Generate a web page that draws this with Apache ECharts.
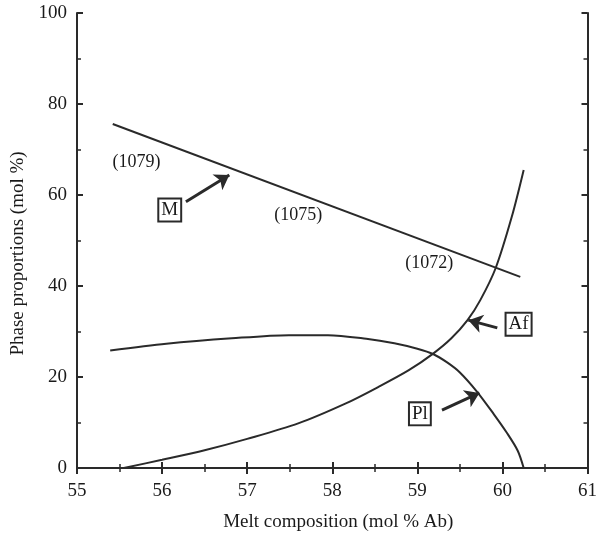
<!DOCTYPE html>
<html>
<head>
<meta charset="utf-8">
<script src="https://cdn.jsdelivr.net/npm/echarts@6/dist/echarts.min.js"></script>
<style>
  html, body { margin: 0; padding: 0; background: #fff; }
  #chart { width: 600px; height: 540px; }
</style>
</head>
<body>
<div id="chart"></div>
<script>
// melt (M) straight line, temperatures marked along it
const meltLine = [[55.42, 75.6], [60.21, 42.0]]
// alkali feldspar (Af)
const afCurve = [[55.55, 0], [56.0, 1.8], [56.5, 3.9], [57.0, 6.4], [57.6, 9.8], [58.16, 14.2],
  [58.54, 17.8], [58.9, 21.5], [59.19, 25.2], [59.4, 28.5], [59.59, 32.5], [59.74, 36.9],
  [59.92, 43.9], [60.11, 55.2], [60.25, 65.5]]
// plagioclase (Pl)
const plCurve = [[55.39, 25.8], [56.05, 27.3], [56.82, 28.5], [57.49, 29.2], [57.95, 29.2],
  [58.4, 28.4], [58.73, 27.4], [59.0, 26.2], [59.19, 25.0], [59.35, 23.2], [59.5, 21.0],
  [59.7, 16.8], [59.9, 11.8], [60.05, 7.8], [60.18, 3.8], [60.25, 0]]
// temperature labels
const tempLabels = [['(1079)', 55.70, 67.3], ['(1075)', 57.60, 55.6], ['(1072)', 59.14, 45.1]]
// phase labels and their arrows [name, x, y, tailX, tailY, headX, headY]
const phaseLabels = [
  ['M', 56.09, 56.7, 56.28, 58.5, 56.79, 64.4],
  ['Af', 60.19, 31.6, 59.94, 30.8, 59.6, 32.5],
  ['Pl', 59.03, 11.9, 59.29, 12.7, 59.73, 16.5]
]

const ink = '#2a2a2a'
const font = 'Liberation Serif'

let chart = echarts.init(document.getElementById('chart'))

const axisCommon = {
  axisLine: {show: true, lineStyle: {color: ink, width: 2}},
  axisTick: {show: true, inside: true, length: 6, lineStyle: {color: ink, width: 2}},
  minorTick: {show: true, splitNumber: 2, length: 4, lineStyle: {color: ink, width: 1.5}},
  splitLine: {show: false}
}

const curve = (data) => ({
  type: 'line', data: data, smooth: 0.3, symbol: 'none',
  lineStyle: {color: ink, width: 2}, z: 3
})

let option = {
  backgroundColor: '#fff',
  animation: false,
  grid: {left: 77, right: 9, top: 13, bottom: 72},
  xAxis: [
    Object.assign({}, axisCommon, {
      type: 'value', min: 55, max: 61, interval: 1, position: 'bottom',
      axisLabel: {color: '#1a1a1a', fontFamily: font, fontSize: 19, margin: 14},
      name: 'Melt composition (mol % Ab)', nameLocation: 'middle', nameGap: 45,
      nameTextStyle: {color: '#1a1a1a', fontFamily: font, fontSize: 19, padding: [0, 0, 0, 12]}
    }),
    Object.assign({}, axisCommon, {
      type: 'value', min: 55, max: 61, interval: 1, position: 'top',
      axisLabel: {show: false}
    })
  ],
  yAxis: [
    Object.assign({}, axisCommon, {
      type: 'value', min: 0, max: 100, interval: 20, position: 'left',
      axisLabel: {color: '#1a1a1a', fontFamily: font, fontSize: 19, margin: 10},
      name: 'Phase proportions (mol %)', nameLocation: 'middle', nameGap: 46,
      nameTextStyle: {color: '#1a1a1a', fontFamily: font, fontSize: 19, padding: [0, 26, 0, 0]}
    }),
    Object.assign({}, axisCommon, {
      type: 'value', min: 0, max: 100, interval: 20, position: 'right',
      axisLabel: {show: false}
    })
  ],
  series: [
    {type: 'line', data: meltLine, symbol: 'none', lineStyle: {color: ink, width: 2}, z: 3},
    curve(afCurve),
    curve(plCurve),
    {
      type: 'scatter', symbolSize: 0, z: 5, itemStyle: {opacity: 1},
      data: tempLabels.map(t => ({value: [t[1], t[2]], name: t[0]})),
      label: {show: true, position: 'inside', formatter: p => p.name,
        color: '#1a1a1a', fontFamily: font, fontSize: 18}
    },
    {
      type: 'scatter', symbolSize: 0, z: 5, itemStyle: {opacity: 1},
      data: phaseLabels.map(t => ({value: [t[1], t[2]], name: t[0]})),
      label: {show: true, position: 'inside', formatter: p => p.name,
        color: '#1a1a1a', fontFamily: font, fontSize: 19, backgroundColor: '#fff',
        borderColor: ink, borderWidth: 2, padding: [2, 2, 0, 2]}
    },
    {
      type: 'lines', coordinateSystem: 'cartesian2d', z: 4,
      symbol: ['none', 'arrow'], symbolSize: 14,
      lineStyle: {color: ink, width: 3, opacity: 1},
      data: phaseLabels.map(t => ({coords: [[t[3], t[4]], [t[5], t[6]]]}))
    }
  ]
}

chart.setOption(option)
</script>
</body>
</html>
